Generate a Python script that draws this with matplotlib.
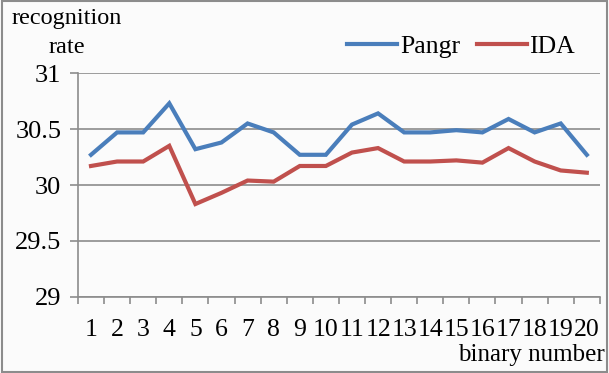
import matplotlib.pyplot as plt
from matplotlib.patches import Rectangle

plt.rcParams['font.family'] = ['Liberation Serif', 'DejaVu Serif']

binary = list(range(1, 21))
pangr = [30.27, 30.47, 30.47, 30.73, 30.32, 30.38, 30.55, 30.47, 30.27, 30.27,
         30.54, 30.64, 30.47, 30.47, 30.49, 30.47, 30.59, 30.47, 30.55, 30.27]
ida = [30.17, 30.21, 30.21, 30.35, 29.83, 29.93, 30.04, 30.03, 30.17, 30.17,
       30.29, 30.33, 30.21, 30.21, 30.22, 30.20, 30.33, 30.21, 30.13, 30.11]
yticks = [29, 29.5, 30, 30.5, 31]
ylabels = ['29', '29.5', '30', '30.5', '31']

fig = plt.figure(figsize=(6.09, 3.73), dpi=100, facecolor='#fbfbfb')
fig.patches.append(Rectangle((0.003, 0.004), 0.994, 0.992, transform=fig.transFigure,
                             fill=False, edgecolor='#8c8c8c', linewidth=1.5))
ax = fig.add_axes([0.128, 0.204, 0.857, 0.6])
ax.set_facecolor('#fbfbfb')

ax.plot(binary, pangr, color='#4a7ebb', lw=3, label='Pangr', solid_joinstyle='miter')
ax.plot(binary, ida, color='#c0504d', lw=3, label='IDA', solid_joinstyle='miter')

ax.set_xlim(0.5, 20.5)
ax.set_ylim(29, 31)
ax.set_yticks(yticks)
ax.set_yticklabels(ylabels, fontsize=19)
ax.yaxis.grid(True, color='#8c8c8c', lw=1.2)
ax.set_axisbelow(True)

# boundary ticks as major, labels at centers as minor
ax.set_xticks([i + 0.5 for i in range(0, 21)])
ax.set_xticklabels([])
ax.set_xticks(binary, minor=True)
ax.set_xticklabels([str(b) for b in binary], minor=True, fontsize=18.5)
ax.tick_params(axis='x', which='major', length=5, color='#8c8c8c', width=1.2)
ax.tick_params(axis='x', which='minor', length=0, pad=16)
ax.tick_params(axis='y', length=6, color='#8c8c8c', width=1.2, pad=6)

for s in ['top', 'right']:
    ax.spines[s].set_visible(False)
ax.spines['left'].set_color('#8c8c8c')
ax.spines['bottom'].set_color('#8c8c8c')
ax.spines['left'].set_linewidth(1.2)
ax.spines['bottom'].set_linewidth(1.2)

fig.text(0.11, 0.950, 'recognition', fontsize=17.5, ha='center', va='center')
fig.text(0.11, 0.872, 'rate', fontsize=17.5, ha='center', va='center')
fig.text(0.993, 0.048, 'binary number', fontsize=18, ha='right', va='center')

ax.legend(loc='center left', bbox_to_anchor=(0.57, 0.874), bbox_transform=fig.transFigure,
          ncol=2, frameon=False, fontsize=18.5, handlelength=1.95, handletextpad=0.1,
          columnspacing=0.65, borderpad=0, borderaxespad=0)

fig.savefig('out.png', dpi=100, facecolor=fig.get_facecolor())
